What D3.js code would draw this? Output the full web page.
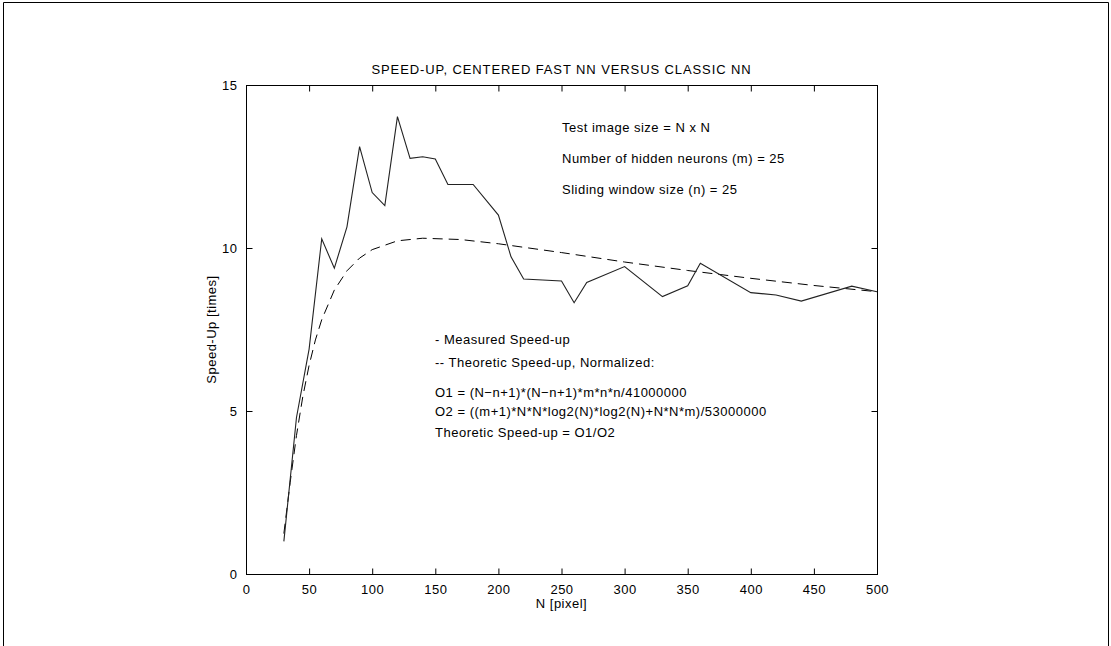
<!DOCTYPE html>
<html>
<head>
<meta charset="utf-8">
<title>Speed-up</title>
<style>
body { margin: 0; background: #fff; }
svg { display: block; }
text { font-family: "Liberation Sans", Arial, Helvetica, sans-serif; font-size: 13px; letter-spacing: 0.5px; fill: #000; }
</style>
<script src="https://d3js.org/d3.v7.min.js"></script>
</head>
<body>
<script>
// measured speed-up
var measuredN = [30, 40, 50, 60, 70, 80, 90, 100, 110, 120, 130, 140, 150, 160, 170, 180, 200, 210, 220, 250, 260, 270, 300, 330, 350, 360, 400, 420, 440, 480, 500];
var measuredV = [1.0, 4.8, 6.9, 10.28, 9.38, 10.65, 13.11, 11.7, 11.3, 14.03, 12.75, 12.8, 12.73, 11.95, 11.95, 11.95, 11.01, 9.73, 9.05, 8.99, 8.32, 8.94, 9.43, 8.51, 8.84, 9.53, 8.63, 8.56, 8.37, 8.83, 8.66];
// theoretic speed-up (dashed)
var theoN = [30, 35, 40, 45, 50, 55, 60, 70, 80, 90, 100, 120, 140, 170, 200, 250, 300, 350, 400, 450, 500];
var theoV = [1.24, 2.81, 4.25, 5.44, 6.4, 7.18, 7.8, 8.71, 9.3, 9.69, 9.95, 10.22, 10.3, 10.26, 10.13, 9.86, 9.57, 9.31, 9.07, 8.85, 8.66];

var xTicks = [0, 50, 100, 150, 200, 250, 300, 350, 400, 450, 500];
var yTicks = [0, 5, 10, 15];

var title = "SPEED-UP, CENTERED FAST NN VERSUS CLASSIC NN";
var xLabel = "N [pixel]";
var yLabel = "Speed-Up [times]";
var infoLines = ["Test image size = N x N", "Number of hidden neurons (m) = 25", "Sliding window size (n) = 25"];
var noteLines = ["-  Measured Speed-up", "-- Theoretic Speed-up, Normalized:", "O1 = (N\u2212n+1)*(N\u2212n+1)*m*n*n/41000000", "O2 = ((m+1)*N*N*log2(N)*log2(N)+N*N*m)/53000000", "Theoretic Speed-up = O1/O2"];

var W = 1111, H = 646;
var pL = 246, pR = 877, pT = 85, pB = 574;

var svg = d3.select("body").append("svg")
    .attr("width", W)
    .attr("height", H);

// figure frame
svg.append("path")
    .attr("d", "M3.5," + H + "V2.5H1108.5V" + H)
    .attr("fill", "none")
    .attr("stroke", "#000");

var x = d3.scaleLinear().domain([0, 500]).range([pL, pR]);
var y = d3.scaleLinear().domain([0, 15]).range([pB, pT]);

// plot box
svg.append("rect")
    .attr("x", pL + 0.5).attr("y", pT + 0.5)
    .attr("width", pR - pL).attr("height", pB - pT)
    .attr("fill", "none").attr("stroke", "#000");

var tk = 6;
var xb = svg.append("g").attr("transform", "translate(0," + (pB + 0.5) + ")")
    .call(d3.axisBottom(x).tickValues(xTicks).tickSizeInner(-tk).tickSizeOuter(0).tickPadding(tk + 4));
var xt = svg.append("g").attr("transform", "translate(0," + (pT + 0.5) + ")")
    .call(d3.axisTop(x).tickValues(xTicks).tickSizeInner(-tk).tickSizeOuter(0).tickFormat(""));
var yl = svg.append("g").attr("transform", "translate(" + (pL + 0.5) + ",0)")
    .call(d3.axisLeft(y).tickValues(yTicks).tickSizeInner(-tk).tickSizeOuter(0).tickPadding(tk + 3));
var yr = svg.append("g").attr("transform", "translate(" + (pR + 0.5) + ",0)")
    .call(d3.axisRight(y).tickValues(yTicks).tickSizeInner(-tk).tickSizeOuter(0).tickFormat(""));

[xb, xt, yl, yr].forEach(function(g) {
  g.select(".domain").remove();
  g.selectAll("line").attr("stroke", "#000");
  g.selectAll("text").attr("font-size", null).attr("font-family", null).attr("fill", "#000");
});

var line = d3.line()
    .x(function(d) { return x(d[0]); })
    .y(function(d) { return y(d[1]); });

svg.append("path")
    .datum(d3.zip(theoN, theoV))
    .attr("d", line)
    .attr("fill", "none")
    .attr("stroke", "#000")
    .attr("stroke-width", 1)
    .attr("stroke-dasharray", "10,6");

svg.append("path")
    .datum(d3.zip(measuredN, measuredV))
    .attr("d", line)
    .attr("fill", "none")
    .attr("stroke", "#222")
    .attr("stroke-width", 1.1);

svg.append("text")
    .attr("x", (pL + pR) / 2)
    .attr("y", 74)
    .attr("text-anchor", "middle")
    .style("letter-spacing", "0.9px")
    .text(title);

svg.append("text")
    .attr("x", (pL + pR) / 2)
    .attr("y", 608)
    .attr("text-anchor", "middle")
    .text(xLabel);

svg.append("text")
    .attr("transform", "translate(216," + ((pT + pB) / 2) + ") rotate(-90)")
    .attr("text-anchor", "middle")
    .text(yLabel);

svg.selectAll("text.info")
    .data(infoLines)
    .enter().append("text")
    .attr("class", "info")
    .attr("x", 562)
    .attr("y", function(d, i) { return 132 + i * 31; })
    .text(function(d) { return d; });

var noteY = [344, 367, 397, 416, 437];
svg.selectAll("text.note")
    .data(noteLines)
    .enter().append("text")
    .attr("class", "note")
    .attr("x", 435)
    .attr("y", function(d, i) { return noteY[i]; })
    .text(function(d) { return d; });
</script>
</body>
</html>
